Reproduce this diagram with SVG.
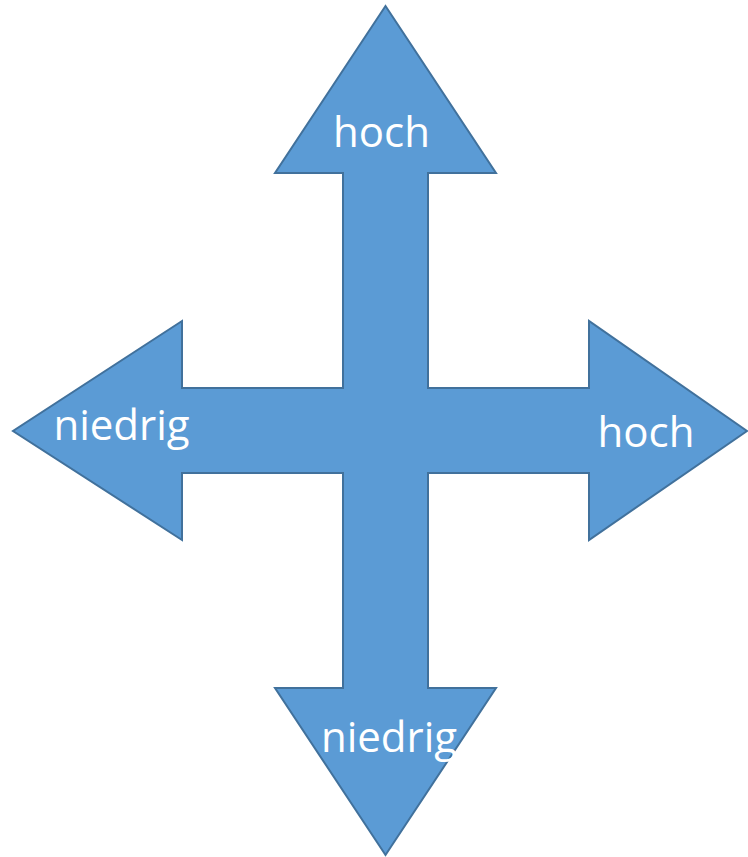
<svg xmlns="http://www.w3.org/2000/svg" width="748" height="857" viewBox="0 0 748 857">
<style>
.arrow{fill:#5B9BD5;stroke:#41719C;stroke-width:2;stroke-linejoin:miter}
.lbl{font-family:"Open Sans","Noto Sans",sans-serif;font-size:42px;fill:#FFFFFF;text-anchor:middle}
</style>
<rect width="748" height="857" fill="#FFFFFF"/>
<g id="connectors">
<path id="quad-arrow" class="arrow" d="M385.5,6 L496,173 L428,173 L428,388 L589,388 L589,321 L747,431 L589,540 L589,473 L428,473 L428,688 L496,688 L385.5,855 L275,688 L343,688 L343,473 L182,473 L182,540 L13,431 L182,321 L182,388 L343,388 L343,173 L275,173 Z"/>
</g>
<g id="top"><text class="lbl" x="381.5" y="147">hoch</text></g>
<g id="right"><text class="lbl" x="646" y="447">hoch</text></g>
<g id="left"><text class="lbl" x="121.5" y="440">niedrig</text></g>
<g id="bottom"><text class="lbl" x="389" y="752">niedrig</text></g>
</svg>
